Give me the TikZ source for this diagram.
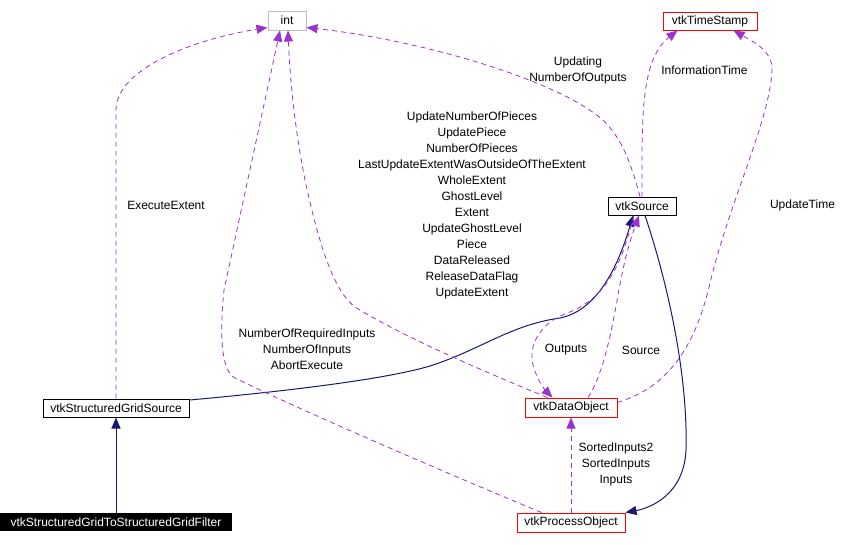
\documentclass[tikz,border=0pt]{standalone}
\usepackage{fontspec}
\setmainfont{Liberation Sans}
\usetikzlibrary{arrows.meta,calc}
\definecolor{dpurple}{HTML}{9A32CD}
\definecolor{dnavy}{HTML}{191970}
\definecolor{dred}{HTML}{FF0000}
\definecolor{dgrey}{HTML}{BFBFBF}
\begin{document}
\begin{tikzpicture}[x=1pt,y=-1pt,
  every node/.style={font=\fontsize{12}{16}\selectfont, inner sep=0pt},
  cls/.style={draw=black, line width=1pt, rectangle, fill=white},
  redcls/.style={cls, draw=dred},
  greycls/.style={cls, draw=dgrey},
  lbl/.style={align=center},
  use/.style={draw=dpurple, line width=0.8pt, dash pattern=on 5pt off 4pt,
     -{Triangle[length=11pt,width=9pt,fill=dpurple]}},
  inh/.style={draw=dnavy, line width=1pt,
     -{Triangle[length=11pt,width=9pt,fill=dnavy]}}
]
\useasboundingbox[fill=white] (0,0) rectangle (864,544);

% nodes
\node[greycls, minimum width=38pt, minimum height=19pt] (int) at (287,20.5) {int};
\node[redcls, minimum width=94pt, minimum height=18pt] (ts) at (710,21) {vtkTimeStamp};
\node[cls, minimum width=68pt, minimum height=18pt] (src) at (642,206) {vtkSource};
\node[redcls, minimum width=92pt, minimum height=19pt] (dobj) at (571,407.5) {vtkDataObject};
\node[redcls, minimum width=108pt, minimum height=19pt] (po) at (571,522.5) {vtkProcessObject};
\node[cls, minimum width=146pt, minimum height=18pt] (sgs) at (116,408) {vtkStructuredGridSource};
\node[fill=black, text=white, minimum width=232pt, minimum height=18pt] (filt) at (116,522) {vtkStructuredGridToStructuredGridFilter};

% inheritance edges
\draw[inh] (filt.north) -- (sgs.south);
\draw[inh] ($(sgs.north east)+(0,1.5)$) .. controls (300,390) and (390,378) .. (430,366)
   .. controls (480,350) and (510,325) .. (560,318)
   .. controls (600,310) and (620,260) .. ($(src.south)+(-9,0)$);
\draw[inh] ($(src.south)+(3,0)$) .. controls (670,290) and (688,380) .. (686,450)
   .. controls (684,495) and (650,508) .. (po.north east);

% usage edges
\draw[use] (sgs.north) -- (116,110) .. controls (116,70) and (190,40) .. ($(int.south west)+(0,-3)$);
\draw[use] ($(po.north west)+(25,0)$) .. controls (420,462) and (290,405) .. (235,378)
   .. controls (220,370) and (220,330) .. (224,290) -- ($(int.south)+(-7,0)$);
\draw[use] ($(dobj.north west)+(23,0)$) .. controls (480,370) and (400,335) .. (355,307)
   .. controls (335,292) and (320,250) .. (305,180)
   .. controls (295,130) and (290,80) .. ($(int.south)+(1,0)$);
\draw[use] ($(src.north)+(-2,0)$) .. controls (630,160) and (622,140) .. (605,122)
   .. controls (560,80) and (420,40) .. ($(int.south east)+(0,-3)$);
\draw[use] (src.north) .. controls (642,120) and (640,60) .. ($(ts.south west)+(15,0)$);
\draw[use] ($(dobj.north east)+(0,5)$) .. controls (650,392) and (690,370) .. (710,283)
   .. controls (730,200) and (770,120) .. (772,70)
   .. controls (773,50) and (750,40) .. ($(ts.south east)+(-24,0)$);
\draw[use] ($(dobj.north)+(17,0)$) .. controls (603,375) and (612,330) .. (618,295)
   .. controls (625,255) and (632,235) .. ($(src.south)+(-3,0)$);
\draw[use] ($(src.south)+(-8,0)$) .. controls (622,260) and (610,295) .. (570,312)
   .. controls (540,322) and (528,345) .. (533,365)
   .. controls (537,380) and (545,390) .. ($(dobj.north west)+(28,0)$);
\draw[use] (po.north) -- (dobj.south);

% labels
\node[lbl] (l1) at (578,70) {Updating\\NumberOfOutputs};
\node[lbl] (l2) at (704.5,70) {InformationTime};
\node[lbl] (l3) at (472,205.5) {UpdateNumberOfPieces\\UpdatePiece\\NumberOfPieces\\LastUpdateExtentWasOutsideOfTheExtent\\WholeExtent\\GhostLevel\\Extent\\UpdateGhostLevel\\Piece\\DataReleased\\ReleaseDataFlag\\UpdateExtent};
\node[lbl] (l4) at (166,205) {ExecuteExtent};
\node[lbl] (l5) at (802.5,205) {UpdateTime};
\node[lbl] (l6) at (307,349) {NumberOfRequiredInputs\\NumberOfInputs\\AbortExecute};
\node[lbl] (l7) at (566,350) {Outputs};
\node[lbl] (l8) at (641,350) {Source};
\node[lbl] (l9) at (616,464) {SortedInputs2\\SortedInputs\\Inputs};
\end{tikzpicture}
\end{document}
